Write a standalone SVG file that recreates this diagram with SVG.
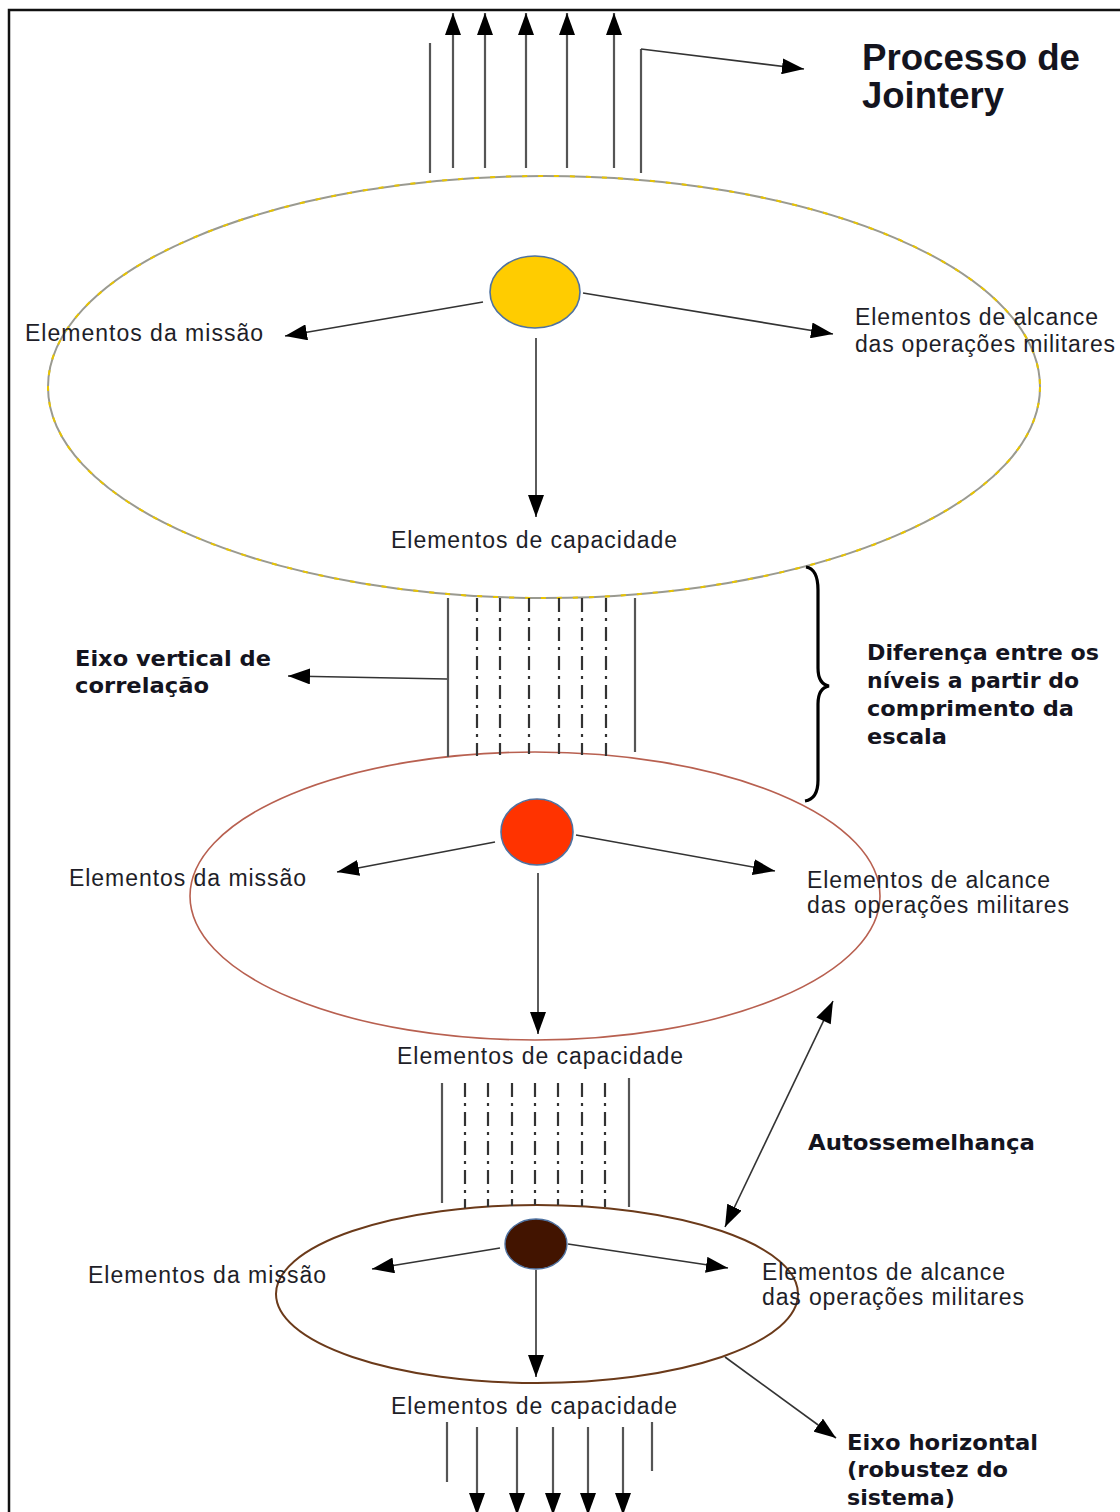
<svg xmlns="http://www.w3.org/2000/svg" width="1120" height="1512" viewBox="0 0 1120 1512">
  <style>
    .lbl { font-family: "Liberation Sans", Arial, sans-serif; font-size: 23px; fill: #1e1e28; }
    .bold { font-family: "DejaVu Sans", sans-serif; font-weight: bold; font-size: 22px; fill: #14141e; }
    .title { font-family: "Liberation Sans", Arial, sans-serif; font-weight: bold; font-size: 36px; fill: #14141e; }
    .con { stroke: #333; stroke-width: 1.6; fill: none; }
    .flow { stroke: #555; stroke-width: 2.2; fill: none; }
    .dash { stroke: #333; stroke-width: 2.2; fill: none; stroke-dasharray: 14 6 3 6; }
  </style>
  <defs>
    <marker id="head" markerUnits="userSpaceOnUse" markerWidth="24" markerHeight="16" refX="22" refY="8" orient="auto">
      <path d="M0,0 L22,8 L0,16 z" fill="#000"/>
    </marker>
    <marker id="headStart" markerUnits="userSpaceOnUse" markerWidth="24" markerHeight="16" refX="0" refY="8" orient="auto">
      <path d="M22,0 L0,8 L22,16 z" fill="#000"/>
    </marker>
  </defs>

  <rect width="1120" height="1512" fill="#fff"/>

  <!-- frame -->
  <path d="M9,1512 L9,10 L1120,10" stroke="#111" stroke-width="2.5" fill="none"/>

  <!-- level ellipses -->
  <g id="level-top">
    <ellipse cx="544" cy="387" rx="496" ry="211" fill="none" stroke="#9a9a90" stroke-width="2"/>
    <ellipse cx="544" cy="387" rx="496" ry="211" fill="none" stroke="#e8c400" stroke-width="2" stroke-dasharray="5 11"/>
  </g>
  <g id="level-middle">
    <ellipse cx="535" cy="896" rx="345" ry="144" fill="none" stroke="#b86050" stroke-width="1.6"/>
  </g>
  <g id="level-bottom">
    <ellipse cx="537" cy="1294" rx="261" ry="89" fill="none" stroke="#6b3a1a" stroke-width="2"/>
  </g>

  <!-- centre nodes -->
  <g id="core-top">
    <ellipse cx="535" cy="292" rx="45" ry="36" fill="#ffcc00" stroke="#4f72a0" stroke-width="1.6"/>
  </g>
  <g id="core-middle">
    <ellipse cx="537" cy="832" rx="36" ry="33" fill="#ff3300" stroke="#4f72a0" stroke-width="1.6"/>
  </g>
  <g id="core-bottom">
    <ellipse cx="536" cy="1244" rx="31" ry="25" fill="#421400" stroke="#4f72a0" stroke-width="1.4"/>
  </g>

  <!-- connectors -->
  <g id="connectors">
    <!-- outgoing jointery flow -->
    <line class="flow" x1="430" y1="173" x2="430" y2="43"/>
    <line class="flow" x1="453" y1="168" x2="453" y2="13" marker-end="url(#head)"/>
    <line class="flow" x1="485" y1="168" x2="485" y2="13" marker-end="url(#head)"/>
    <line class="flow" x1="526" y1="168" x2="526" y2="13" marker-end="url(#head)"/>
    <line class="flow" x1="567" y1="168" x2="567" y2="13" marker-end="url(#head)"/>
    <line class="flow" x1="614" y1="168" x2="614" y2="13" marker-end="url(#head)"/>
    <path class="flow" d="M641,173 L641,49"/>
    <line class="con" x1="641" y1="49" x2="804" y2="69" marker-end="url(#head)"/>

    <!-- top level -->
    <line class="con" x1="483" y1="302" x2="285" y2="336" marker-end="url(#head)"/>
    <line class="con" x1="583" y1="293" x2="833" y2="334" marker-end="url(#head)"/>
    <line class="con" x1="536" y1="338" x2="536" y2="517" marker-end="url(#head)"/>

    <!-- correlation between top and middle -->
    <line class="flow" x1="448" y1="598" x2="448" y2="757"/>
    <line class="dash" x1="477" y1="598" x2="477" y2="756"/>
    <line class="dash" x1="500" y1="598" x2="500" y2="755"/>
    <line class="dash" x1="529" y1="598" x2="529" y2="754"/>
    <line class="dash" x1="559" y1="598" x2="559" y2="754"/>
    <line class="dash" x1="582" y1="598" x2="582" y2="755"/>
    <line class="dash" x1="606" y1="598" x2="606" y2="756"/>
    <line class="flow" x1="635" y1="598" x2="635" y2="752"/>
    <line class="con" x1="447" y1="679" x2="288" y2="676" marker-end="url(#head)"/>

    <!-- brace -->
    <path d="M806,567 Q818,569 818,590 L818,668 Q818,684 829,686 Q818,688 818,704 L818,780 Q818,799 805,801" stroke="#000" stroke-width="3.2" fill="none"/>

    <!-- middle level -->
    <line class="con" x1="495" y1="842" x2="337" y2="872" marker-end="url(#head)"/>
    <line class="con" x1="576" y1="835" x2="775" y2="871" marker-end="url(#head)"/>
    <line class="con" x1="538" y1="873" x2="538" y2="1034" marker-end="url(#head)"/>

    <!-- correlation between middle and bottom -->
    <line class="flow" x1="442" y1="1083" x2="442" y2="1203"/>
    <line class="dash" x1="465" y1="1083" x2="465" y2="1208"/>
    <line class="dash" x1="488" y1="1083" x2="488" y2="1207"/>
    <line class="dash" x1="512" y1="1083" x2="512" y2="1206"/>
    <line class="dash" x1="535" y1="1083" x2="535" y2="1205"/>
    <line class="dash" x1="558" y1="1083" x2="558" y2="1205"/>
    <line class="dash" x1="582" y1="1083" x2="582" y2="1206"/>
    <line class="dash" x1="605" y1="1083" x2="605" y2="1207"/>
    <line class="flow" x1="629" y1="1078" x2="629" y2="1207"/>

    <!-- self-similarity -->
    <line class="con" x1="833" y1="1001" x2="725" y2="1227" marker-start="url(#headStart)" marker-end="url(#head)"/>

    <!-- bottom level -->
    <line class="con" x1="500" y1="1248" x2="372" y2="1269" marker-end="url(#head)"/>
    <line class="con" x1="568" y1="1244" x2="728" y2="1268" marker-end="url(#head)"/>
    <line class="con" x1="536" y1="1270" x2="536" y2="1377" marker-end="url(#head)"/>
    <line class="con" x1="725" y1="1357" x2="836" y2="1438" marker-end="url(#head)"/>

    <!-- incoming flow -->
    <line class="flow" x1="447" y1="1422" x2="447" y2="1482"/>
    <line class="flow" x1="477" y1="1427" x2="477" y2="1515" marker-end="url(#head)"/>
    <line class="flow" x1="517" y1="1427" x2="517" y2="1515" marker-end="url(#head)"/>
    <line class="flow" x1="553" y1="1427" x2="553" y2="1515" marker-end="url(#head)"/>
    <line class="flow" x1="588" y1="1427" x2="588" y2="1515" marker-end="url(#head)"/>
    <line class="flow" x1="623" y1="1427" x2="623" y2="1515" marker-end="url(#head)"/>
    <line class="flow" x1="652" y1="1422" x2="652" y2="1471"/>
  </g>

  <!-- labels -->
  <g id="label-process">
    <text class="title" x="862" y="70" textLength="218" lengthAdjust="spacingAndGlyphs">Processo de</text>
    <text class="title" x="862" y="108" textLength="142" lengthAdjust="spacingAndGlyphs">Jointery</text>
  </g>

  <g id="labels-top">
    <text class="lbl" x="25" y="341" textLength="238" lengthAdjust="spacing">Elementos da missão</text>
    <text class="lbl" x="855" y="325" textLength="243" lengthAdjust="spacing">Elementos de alcance</text>
    <text class="lbl" x="855" y="352" textLength="260" lengthAdjust="spacing">das operações militares</text>
    <text class="lbl" x="391" y="548" textLength="286" lengthAdjust="spacing">Elementos de capacidade</text>
  </g>

  <g id="labels-middle">
    <text class="lbl" x="69" y="886" textLength="237" lengthAdjust="spacing">Elementos da missão</text>
    <text class="lbl" x="807" y="888" textLength="243" lengthAdjust="spacing">Elementos de alcance</text>
    <text class="lbl" x="807" y="913" textLength="262" lengthAdjust="spacing">das operações militares</text>
    <text class="lbl" x="397" y="1064" textLength="286" lengthAdjust="spacing">Elementos de capacidade</text>
  </g>

  <g id="labels-bottom">
    <text class="lbl" x="88" y="1283" textLength="238" lengthAdjust="spacing">Elementos da missão</text>
    <text class="lbl" x="762" y="1280" textLength="243" lengthAdjust="spacing">Elementos de alcance</text>
    <text class="lbl" x="762" y="1305" textLength="262" lengthAdjust="spacing">das operações militares</text>
    <text class="lbl" x="391" y="1414" textLength="286" lengthAdjust="spacing">Elementos de capacidade</text>
  </g>

  <g id="label-vertical-axis">
    <text class="bold" x="75" y="666" textLength="196" lengthAdjust="spacingAndGlyphs">Eixo vertical de</text>
    <text class="bold" x="75" y="693" textLength="134" lengthAdjust="spacingAndGlyphs">correlação</text>
  </g>

  <g id="label-scale">
    <text class="bold" x="867" y="660" textLength="232" lengthAdjust="spacingAndGlyphs">Diferença entre os</text>
    <text class="bold" x="867" y="688" textLength="212" lengthAdjust="spacingAndGlyphs">níveis a partir do</text>
    <text class="bold" x="867" y="716" textLength="207" lengthAdjust="spacingAndGlyphs">comprimento da</text>
    <text class="bold" x="867" y="744" textLength="80" lengthAdjust="spacingAndGlyphs">escala</text>
  </g>

  <g id="label-self-similarity">
    <text class="bold" x="808" y="1150" textLength="227" lengthAdjust="spacingAndGlyphs">Autossemelhança</text>
  </g>

  <g id="label-horizontal-axis">
    <text class="bold" x="847" y="1450" textLength="191" lengthAdjust="spacingAndGlyphs">Eixo horizontal</text>
    <text class="bold" x="847" y="1477" textLength="161" lengthAdjust="spacingAndGlyphs">(robustez do</text>
    <text class="bold" x="847" y="1505" textLength="108" lengthAdjust="spacingAndGlyphs">sistema)</text>
  </g>
</svg>
